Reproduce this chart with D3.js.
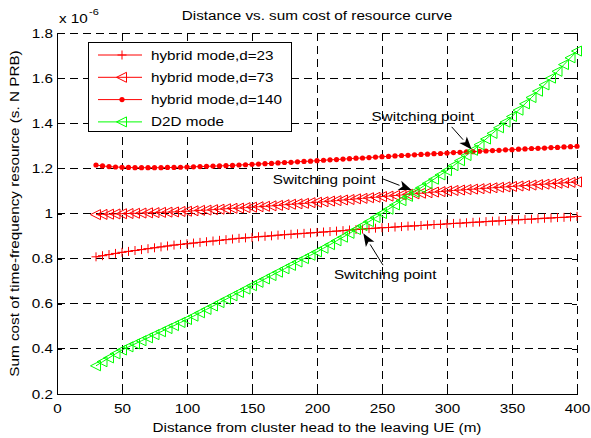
<!DOCTYPE html>
<html><head><meta charset="utf-8">
<script src="https://cdn.jsdelivr.net/npm/d3@7"></script>
<style>
body{margin:0;background:#fff}
text{font-family:"Liberation Sans",Arial,Helvetica,sans-serif;}
</style>
</head><body>
<svg id="c" width="591" height="438"></svg>
<script>
// ---------- data ----------
const distance = [30,35,40,45,50,55,60,65,70,75,80,85,90,95,100,105,110,115,120,125,130,135,140,145,150,155,160,165,170,175,180,185,190,195,200,205,210,215,220,225,230,235,240,245,250,255,260,265,270,275,280,285,290,295,300,305,310,315,320,325,330,335,340,345,350,355,360,365,370,375,380,385,390,395,400];
const hybridD23 = [0.808,0.813,0.818,0.823,0.828,0.832,0.836,0.840,0.844,0.848,0.852,0.856,0.860,0.863,0.866,0.869,0.872,0.875,0.878,0.881,0.884,0.887,0.890,0.892,0.894,0.897,0.899,0.901,0.904,0.906,0.908,0.910,0.912,0.914,0.916,0.918,0.920,0.922,0.924,0.927,0.929,0.931,0.933,0.935,0.937,0.938,0.940,0.942,0.944,0.945,0.947,0.949,0.951,0.952,0.954,0.956,0.957,0.959,0.961,0.962,0.964,0.966,0.967,0.969,0.971,0.972,0.974,0.975,0.977,0.979,0.980,0.982,0.983,0.985,0.987];
const hybridD73 = [0.995,0.996,0.997,0.998,0.999,1.000,1.001,1.002,1.003,1.004,1.005,1.006,1.007,1.009,1.010,1.012,1.014,1.015,1.017,1.019,1.021,1.023,1.024,1.026,1.028,1.030,1.032,1.034,1.036,1.039,1.041,1.043,1.045,1.048,1.050,1.052,1.055,1.057,1.060,1.062,1.065,1.067,1.070,1.072,1.075,1.077,1.080,1.082,1.085,1.087,1.090,1.092,1.095,1.097,1.100,1.102,1.104,1.106,1.108,1.110,1.112,1.114,1.116,1.118,1.120,1.122,1.124,1.126,1.128,1.130,1.132,1.134,1.136,1.138,1.140];
const hybridD140 = [1.215,1.211,1.208,1.206,1.205,1.204,1.203,1.203,1.203,1.203,1.203,1.204,1.204,1.205,1.206,1.207,1.208,1.209,1.210,1.211,1.212,1.213,1.215,1.216,1.218,1.219,1.221,1.222,1.224,1.226,1.227,1.229,1.231,1.232,1.234,1.236,1.238,1.239,1.241,1.243,1.245,1.246,1.248,1.250,1.252,1.253,1.255,1.257,1.258,1.260,1.262,1.263,1.265,1.266,1.268,1.270,1.271,1.273,1.274,1.276,1.277,1.279,1.280,1.282,1.283,1.285,1.286,1.288,1.289,1.290,1.292,1.293,1.295,1.296,1.298];
const d2dMode = [0.325,0.343,0.360,0.378,0.395,0.409,0.422,0.436,0.449,0.463,0.476,0.490,0.503,0.517,0.530,0.545,0.560,0.575,0.590,0.605,0.620,0.635,0.650,0.665,0.680,0.695,0.710,0.725,0.740,0.755,0.770,0.785,0.800,0.815,0.830,0.846,0.862,0.879,0.895,0.912,0.929,0.946,0.964,0.982,1.000,1.019,1.038,1.057,1.076,1.095,1.114,1.133,1.152,1.171,1.190,1.212,1.234,1.257,1.280,1.305,1.330,1.355,1.380,1.405,1.430,1.458,1.486,1.514,1.542,1.570,1.600,1.630,1.660,1.690,1.720];
const seriesNames = ["hybrid mode,d=23","hybrid mode,d=73","hybrid mode,d=140","D2D mode"];
const xTicks = [0,50,100,150,200,250,300,350,400];
const yTicks = [0.2,0.4,0.6,0.8,1.0,1.2,1.4,1.6,1.8];
const yTickLabels = ["0.2","0.4","0.6","0.8","1","1.2","1.4","1.6","1.8"];
const titleText = "Distance vs. sum cost of resource curve";
const xLabel = "Distance from cluster head to the leaving UE (m)";
const yLabel = "Sum cost of time-frequency resource (s. N PRB)";
const annotText = "Switching point";
// annotation anchors in data units: [textX, textY, tailX, tailY, tipX, tipY]
const annotations = [
  [242, 1.41, 303.6, 1.384, 319, 1.284],
  [166, 1.13, 250.8, 1.153, 272.8, 1.104],
  [213, 0.71, 250.8, 0.771, 235.6, 0.912]
];

// ---------- layout ----------
const L = 57, R = 577, T = 33, B = 394;
const FS = 12.5, K = 1.22; // font size and horizontal stretch (wide Helvetica look)
const svg = d3.select("#c");
const x = d3.scaleLinear().domain([0,400]).range([L,R]);
const y = d3.scaleLinear().domain([0.2,1.8]).range([B,T]);

function stretch(sel){
  sel.each(function(){
    const w = this.getComputedTextLength();
    if (w > 0){
      this.setAttribute("textLength", (w*K).toFixed(2));
      this.setAttribute("lengthAdjust","spacingAndGlyphs");
    }
  });
}
function txt(g, xx, yy, s, anchor, size){
  const t = g.append("text").attr("x",xx).attr("y",yy).attr("font-size",size||FS)
    .attr("fill","#000").attr("text-anchor",anchor||"start").text(s);
  stretch(t);
  return t;
}

// grid
const grid = svg.append("g").attr("stroke","#000").attr("stroke-width",1).attr("stroke-dasharray","8,5").attr("shape-rendering","crispEdges");
grid.selectAll(".gx").data(xTicks).join("line")
  .attr("x1",d=>x(d)).attr("x2",d=>x(d)).attr("y1",T).attr("y2",B);
grid.selectAll(".gy").data(yTicks).join("line")
  .attr("y1",d=>y(d)).attr("y2",d=>y(d)).attr("x1",L).attr("x2",R);

// axes
const fmt = (d)=>yTickLabels[yTicks.indexOf(d)];
const axB = svg.append("g").attr("transform",`translate(0,${B})`)
  .call(d3.axisBottom(x).tickValues(xTicks).tickSizeInner(-5).tickSizeOuter(0).tickPadding(10));
const axL = svg.append("g").attr("transform",`translate(${L},0)`)
  .call(d3.axisLeft(y).tickValues(yTicks).tickFormat(fmt).tickSizeInner(-5).tickSizeOuter(0).tickPadding(4));
const axT = svg.append("g").attr("transform",`translate(0,${T})`)
  .call(d3.axisTop(x).tickValues(xTicks).tickSizeInner(-5).tickSizeOuter(0).tickFormat(""));
const axR = svg.append("g").attr("transform",`translate(${R},0)`)
  .call(d3.axisRight(y).tickValues(yTicks).tickSizeInner(-5).tickSizeOuter(0).tickFormat(""));
[axT,axR].forEach(a=>a.select(".domain").remove());
[axB,axL,axT,axR].forEach(a=>{
  a.attr("font-size",FS).attr("font-family",'"Liberation Sans",Arial,sans-serif');
  a.selectAll("text").attr("fill","#000");
  a.selectAll("line,path").attr("stroke","#000").attr("shape-rendering","crispEdges");
});
stretch(axB.selectAll("text"));
stretch(axL.selectAll("text"));

// marker shapes
const plusPath = "M-4.5,0H4.5M0,-4.5V4.5";
const triPath = "M-5.5,0L4.5,-5L4.5,5Z";
function drawMarker(g, kind, color){
  if(kind==="plus") g.append("path").attr("d",plusPath).attr("stroke",color).attr("fill","none");
  else if(kind==="tri") g.append("path").attr("d",triPath).attr("stroke",color).attr("fill","none");
  else g.append("circle").attr("r",2.6).attr("fill",color);
}
const series = [
  {name:seriesNames[0], vals:hybridD23, color:"#ff0000", kind:"plus"},
  {name:seriesNames[1], vals:hybridD73, color:"#ff0000", kind:"tri"},
  {name:seriesNames[2], vals:hybridD140, color:"#ff0000", kind:"dot"},
  {name:seriesNames[3], vals:d2dMode, color:"#00ff00", kind:"tri"}
];
const line = d3.line().x(d=>x(d[0])).y(d=>y(d[1]));
const plot = svg.append("g");
series.forEach(s=>{
  const pts = distance.map((d,i)=>[d,s.vals[i]]);
  plot.append("path").attr("d",line(pts)).attr("fill","none").attr("stroke",s.color).attr("stroke-width",1);
  pts.forEach(p=>{
    const g = plot.append("g").attr("transform",`translate(${x(p[0])},${y(p[1])})`);
    drawMarker(g,s.kind,s.color);
  });
});

// annotations
const ann = svg.append("g");
annotations.forEach(a=>{
  txt(ann, x(a[0]), y(a[1]), annotText);
  const x1=x(a[2]),y1=y(a[3]),x2=x(a[4]),y2=y(a[5]);
  const ang=Math.atan2(y2-y1,x2-x1);
  const hl=13, hw=5;
  const bx=x2-hl*Math.cos(ang), by=y2-hl*Math.sin(ang);
  ann.append("line").attr("x1",x1).attr("y1",y1).attr("x2",bx).attr("y2",by).attr("stroke","#000").attr("stroke-width",1);
  const px=-Math.sin(ang), py=Math.cos(ang);
  const nx=x2-(hl*0.75)*Math.cos(ang), ny=y2-(hl*0.75)*Math.sin(ang);
  ann.append("path").attr("d",`M${x2},${y2}L${bx+px*hw},${by+py*hw}L${nx},${ny}L${bx-px*hw},${by-py*hw}Z`).attr("fill","#000");
});

// legend
const lg = svg.append("g");
lg.append("rect").attr("x",88.5).attr("y",42.5).attr("width",203).attr("height",89).attr("fill","#fff").attr("stroke","#000").attr("stroke-width",1);
series.forEach((s,i)=>{
  const yy = 55 + i*22.3;
  lg.append("line").attr("x1",98).attr("x2",142).attr("y1",yy).attr("y2",yy).attr("stroke",s.color);
  const g = lg.append("g").attr("transform",`translate(122,${yy})`);
  drawMarker(g,s.kind,s.color);
  txt(lg, 151, yy+4.5, s.name);
});

// titles
txt(svg, (L+R)/2, 20, titleText, "middle");
txt(svg, (L+R)/2, 432, xLabel, "middle");
const yl = svg.append("g").attr("transform",`translate(19,${(T+B)/2}) rotate(-90)`);
txt(yl, 0, 0, yLabel, "middle");
txt(svg, 59, 23, "x 10");
txt(svg, 89, 15, "-6", "start", 9);
</script>
</body></html>
